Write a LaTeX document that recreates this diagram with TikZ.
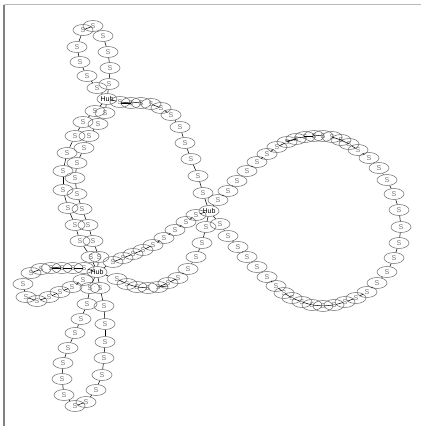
\documentclass[tikz,border=0pt]{standalone}
\usepackage{fontspec}
\setsansfont{Liberation Sans}
\usetikzlibrary{shapes.geometric}
\definecolor{framegray}{RGB}{185,185,185}
\definecolor{edgegray}{RGB}{110,110,110}

\begin{document}
\begin{tikzpicture}[
  x=0.03cm, y=-0.03cm,
  s/.style={draw=edgegray, ellipse, line width=0.45pt, inner sep=0pt,
    minimum width=0.6cm, minimum height=0.33cm,
    font=\sffamily\fontsize{6}{7}\selectfont, text=black!55},
  hub/.style={s, text=black},
  ln/.style={black, line width=0.45pt}
]
\useasboundingbox (0,0) rectangle (421,426);
% window frame
\draw[framegray, line width=1.5pt] (4,4.5) -- (421,4.5);
\draw[black!50, line width=0.9pt] (4,5) -- (4,426);

% hubs
\node[hub] (h1) at (107,99)  {Hub};
\node[hub] (h2) at (209,211) {Hub};
\node[hub] (h3) at (97,272)  {Hub};

% top loop on h1
\foreach \x/\y [count=\i] in {109/84, 110/68, 108/52, 103/36, 93/26,
    83/30, 77/47, 80/62, 87/76, 97/88}
  \node[s] (t\i) at (\x,\y) {S};
\draw[ln] (h1) -- (t1);
\foreach \i [count=\j from 2] in {1,...,9} \draw[ln] (t\i) -- (t\j);
\draw[ln] (t10) -- (h1);

% upper arc h1 to h2
\foreach \x/\y [count=\i] in {120/102, 131/103, 141/103, 151/104, 161/108,
    171/115, 180/127, 185/143, 191/159, 198/176, 203/193}
  \node[s] (u\i) at (\x,\y) {S};
\draw[ln] (h1) -- (u1);
\foreach \i [count=\j from 2] in {1,...,10} \draw[ln] (u\i) -- (u\j);
\draw[ln] (u11) -- (h2);

% outer column h1 to h3
\foreach \x/\y [count=\i] in {95/111, 83/122, 75/136, 67/153, 63/171,
    63/190, 68/208, 75/225, 80/241, 91/257}
  \node[s] (p\i) at (\x,\y) {S};
\draw[ln] (h1) -- (p1);
\foreach \i [count=\j from 2] in {1,...,9} \draw[ln] (p\i) -- (p\j);
\draw[ln] (p10) -- (h3);

% inner column h1 to h3
\foreach \x/\y [count=\i] in {105/113, 98/124, 89/136, 84/148, 77/163,
    75/178, 77/194, 82/209, 88/225, 93/241, 99/257}
  \node[s] (q\i) at (\x,\y) {S};
\draw[ln] (h1) -- (q1);
\foreach \i [count=\j from 2] in {1,...,10} \draw[ln] (q\i) -- (q\j);
\draw[ln] (q11) -- (h3);

% big loop on h2
\foreach \x/\y [count=\i] in {218/200, 228/191, 237/181, 247/171, 257/162,
    267/154, 277/147, 287/142, 296/139, 305/137, 314/136, 323/136, 332/137,
    341/140, 349/144, 358/150, 369/158, 379/168, 387/180, 394/194, 399/210,
    401/227, 399/243, 394/258, 387/272, 377/283, 367/292, 356/298, 345/302,
    334/305, 323/306, 312/305, 302/302, 292/298, 284/293, 276/286, 267/277,
    257/267, 247/257, 238/247, 228/236, 220/224}
  \node[s] (r\i) at (\x,\y) {S};
\draw[ln] (h2) -- (r1);
\foreach \i [count=\j from 2] in {1,...,41} \draw[ln] (r\i) -- (r\j);
\draw[ln] (r42) -- (h2);

% upper chain h2 to h3
\foreach \x/\y [count=\i] in {196/215, 186/222, 175/230, 164/238, 153/245,
    143/250, 133/254, 123/258, 113/262}
  \node[s] (m\i) at (\x,\y) {S};
\draw[ln] (h2) -- (m1);
\foreach \i [count=\j from 2] in {1,...,8} \draw[ln] (m\i) -- (m\j);
\draw[ln] (m9) -- (h3);

% lower chain h2 to h3
\foreach \x/\y [count=\i] in {206/227, 202/243, 196/257, 188/269, 178/278,
    168/283, 158/287, 148/288, 137/287, 127/284, 117/279}
  \node[s] (w\i) at (\x,\y) {S};
\draw[ln] (h2) -- (w1);
\foreach \i [count=\j from 2] in {1,...,10} \draw[ln] (w\i) -- (w\j);
\draw[ln] (w11) -- (h3);

% left loop on h3
\foreach \x/\y [count=\i] in {84/268, 73/268, 62/268, 51/268, 41/269,
    31/273, 23/284, 26/297, 37/301, 49/297, 60/292, 72/287, 83/280}
  \node[s] (k\i) at (\x,\y) {S};
\draw[ln] (h3) -- (k1);
\foreach \i [count=\j from 2] in {1,...,12} \draw[ln] (k\i) -- (k\j);
\draw[ln] (k13) -- (h3);

% bottom loop on h3
\foreach \x/\y [count=\i] in {100/288, 104/306, 105/324, 105/342, 104/358,
    102/375, 96/390, 86/402, 75/406, 64/395, 62/379, 63/363, 68/348,
    75/333, 81/319, 87/304, 90/288}
  \node[s] (b\i) at (\x,\y) {S};
\draw[ln] (h3) -- (b1);
\foreach \i [count=\j from 2] in {1,...,16} \draw[ln] (b\i) -- (b\j);
\draw[ln] (b17) -- (h3);

\end{tikzpicture}
\end{document}
